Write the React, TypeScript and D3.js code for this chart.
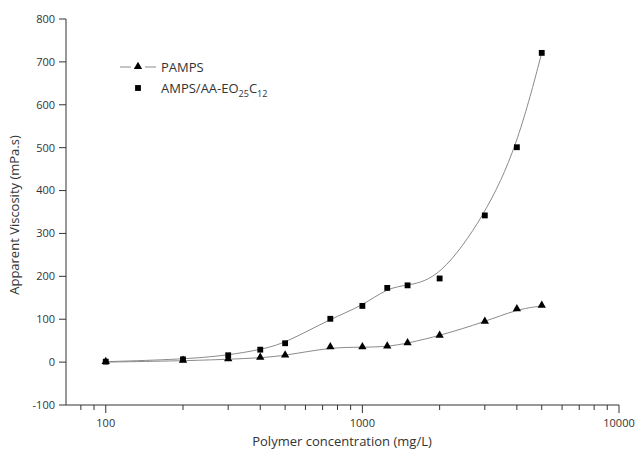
import React from "react";
import * as d3 from "d3";

const concentrations = [100, 200, 300, 400, 500, 750, 1000, 1250, 1500, 2000, 3000, 4000, 5000];
const pampsValues = [0, 3, 6.5, 10, 15, 34.5, 34.5, 36, 44, 61.5, 94, 123, 131];
const ampsValues = [1, 6.5, 16, 29, 44, 101, 131, 173, 179, 195, 342, 501, 721];
const yTicks = [-100, 0, 100, 200, 300, 400, 500, 600, 700, 800];
const xMajorTicks = [100, 1000, 10000];
const xMinorTicks = [80, 90, 200, 300, 400, 500, 600, 700, 800, 900, 2000, 3000, 4000, 5000, 6000, 7000, 8000, 9000];

const FONT = "'Open Sans', 'Liberation Sans', sans-serif";

export default function App() {
  const W = 637, H = 455;
  const x = d3.scaleLog().domain([70, 10000]).range([66, 619]);
  const y = d3.scaleLinear().domain([-100, 800]).range([405, 19]);

  const line = d3
    .line<[number, number]>()
    .x((d) => x(d[0]))
    .y((d) => y(d[1]))
    .curve(d3.curveBasis);

  const pampsPts: [number, number][] = concentrations.map((c, i) => [c, pampsValues[i]]);
  const ampsPts: [number, number][] = concentrations.map((c, i) => [c, ampsValues[i]]);

  const tri = d3.symbol().type(d3.symbolTriangle).size(30)() as string;
  const sq = d3.symbol().type(d3.symbolSquare).size(34)() as string;

  const axisColor = "#333";
  const textColor = "#333";

  return (
    <svg width={W} height={H} style={{ position: "absolute", left: 0, top: 0, background: "#fff" }} fontFamily={FONT}>
      {/* curves */}
      <path d={line(pampsPts) || ""} fill="none" stroke="#8a8a8a" strokeWidth={1} />
      <path d={line(ampsPts) || ""} fill="none" stroke="#8a8a8a" strokeWidth={1} />
      {/* markers */}
      {ampsPts.map((p, i) => (
        <path key={"s" + i} d={sq} transform={`translate(${x(p[0])},${y(p[1])})`} fill="#000" />
      ))}
      {pampsPts.map((p, i) => (
        <path key={"t" + i} d={tri} transform={`translate(${x(p[0])},${y(p[1]) - 0.5})`} fill="#000" />
      ))}

      {/* y axis */}
      <line x1={66} x2={66} y1={y(800)} y2={y(-100)} stroke={axisColor} strokeWidth={1} />
      {yTicks.map((t) => (
        <g key={"y" + t}>
          <line x1={59} x2={66} y1={y(t)} y2={y(t)} stroke={axisColor} strokeWidth={1} />
          <text x={55} y={y(t)} dy="0.35em" textAnchor="end" fontSize={11} fill={textColor}>
            {t}
          </text>
        </g>
      ))}

      {/* x axis */}
      <line x1={66} x2={619} y1={405} y2={405} stroke={axisColor} strokeWidth={1} />
      {xMajorTicks.map((t) => (
        <g key={"x" + t}>
          <line x1={x(t)} x2={x(t)} y1={405} y2={413} stroke={axisColor} strokeWidth={1} />
          <text x={x(t)} y={427} textAnchor="middle" fontSize={11} fill={textColor}>
            {t}
          </text>
        </g>
      ))}
      {xMinorTicks.map((t) => (
        <line key={"m" + t} x1={x(t)} x2={x(t)} y1={405} y2={410} stroke={axisColor} strokeWidth={1} />
      ))}

      {/* axis titles */}
      <text x={342} y={446} textAnchor="middle" fontSize={13} fill={textColor}>
        Polymer concentration (mg/L)
      </text>
      <text transform="translate(19,215) rotate(-90)" textAnchor="middle" fontSize={13} fill={textColor}>
        Apparent Viscosity (mPa.s)
      </text>

      {/* legend */}
      <line x1={120} x2={131} y1={67} y2={67} stroke="#8a8a8a" strokeWidth={1} />
      <line x1={145} x2={156} y1={67} y2={67} stroke="#8a8a8a" strokeWidth={1} />
      <path d={tri} transform="translate(138,66.5)" fill="#000" />
      <text x={161} y={72} fontSize={13} fill={textColor}>PAMPS</text>
      <path d={sq} transform="translate(138,88)" fill="#000" />
      <text x={161} y={93} fontSize={13} fill={textColor}>
        AMPS/AA-EO<tspan fontSize={9} dy={4}>25</tspan>
        <tspan fontSize={13} dy={-4}>C</tspan>
        <tspan fontSize={9} dy={4}>12</tspan>
      </text>
    </svg>
  );
}
